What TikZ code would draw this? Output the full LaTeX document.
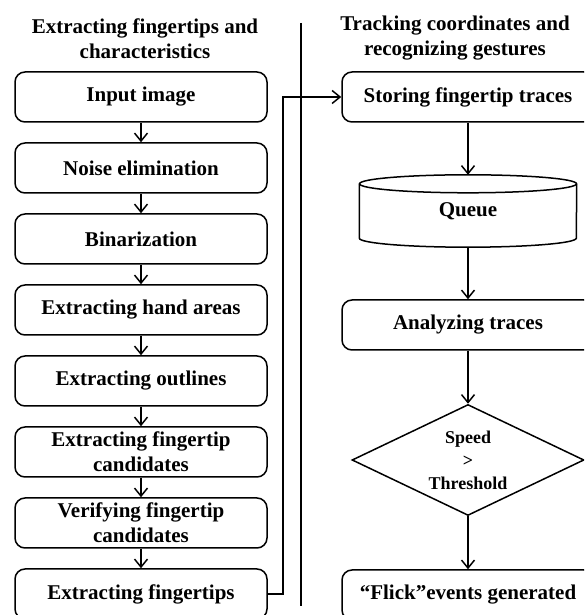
\documentclass[tikz,border=0pt]{standalone}
\usepackage{fontspec}
\setmainfont{Liberation Serif}
\usetikzlibrary{arrows.meta,shapes.geometric}

\begin{document}
\begin{tikzpicture}[x=1pt,y=1pt,
    stepbox/.style={draw, rounded corners=10pt, line width=1.5pt,
      minimum width=252pt, minimum height=50pt, inner sep=0pt,
      align=center, font=\fontsize{21}{25}\selectfont\bfseries},
    heading/.style={align=center, font=\fontsize{21}{25}\selectfont\bfseries},
    flow/.style={-{Straight Barb[length=8pt,width=13pt]}, line width=1.5pt}]
            \useasboundingbox (0,0) rectangle (584,615);
            \clip (0,0) rectangle (584,615);
            % column headings
            \node[heading] (lefthead) at (145,576.5) {Extracting fingertips and\\characteristics};
            \node[heading] (righthead) at (455,576.5) {Tracking coordinates and\\recognizing gestures};
            \draw[line width=2pt] (300.5,592) -- (300.5,9);
            % left column
            \node[stepbox] (input) at (141,518) {Input image};
            \node[stepbox] (noise) at (141,447) {Noise elimination};
            \node[stepbox] (binar) at (141,376) {Binarization};
            \node[stepbox] (hand) at (141,305) {Extracting hand areas};
            \node[stepbox] (outline) at (141,234) {Extracting outlines};
            \node[stepbox] (cand) at (141,163) {Extracting fingertip\\candidates};
            \node[stepbox] (verify) at (141,92) {Verifying fingertip\\candidates};
            \node[stepbox] (tips) at (141,21) {Extracting fingertips};
            \draw[flow] (input) -- (noise);
            \draw[flow] (noise) -- (binar);
            \draw[flow] (binar) -- (hand);
            \draw[flow] (hand) -- (outline);
            \draw[flow] (outline) -- (cand);
            \draw[flow] (cand) -- (verify);
            \draw[flow] (verify) -- (tips);
            % right column
            \node[stepbox] (store) at (468,518) {Storing fingertip traces};
            \node[minimum width=217pt, minimum height=72pt, inner sep=0pt,
              font=\fontsize{21}{25}\selectfont\bfseries] (queue) at (468,404) {Queue};
            \draw[line width=1.5pt] ([yshift=-9pt]queue.north) ellipse [x radius=108.5pt, y radius=9pt];
            \draw[line width=1.5pt] ([yshift=-9pt]queue.north west) -- ([yshift=9pt]queue.south west)
              arc[start angle=180, end angle=360, x radius=108.5pt, y radius=9pt]
              -- ([yshift=-9pt]queue.north east);
            \node[stepbox] (analyze) at (468,290) {Analyzing traces};
            \node[draw, diamond, line width=1.5pt, aspect=2.1, inner sep=0pt,
              minimum width=232pt, minimum height=111pt, align=center,
              font=\fontsize{18}{23}\selectfont\bfseries] (check) at (468,155) {Speed\\>\\Threshold};
            \node[stepbox] (flick) at (468,20) {“Flick”events generated};
            \draw[flow] (tips.east) -- ++(15,0) |- (store.west);
            \draw[flow] (store) -- (queue);
            \draw[flow] (queue) -- (analyze);
            \draw[flow] (analyze) -- (check);
            \draw[flow] (check) -- (flick);
\end{tikzpicture}
\end{document}
